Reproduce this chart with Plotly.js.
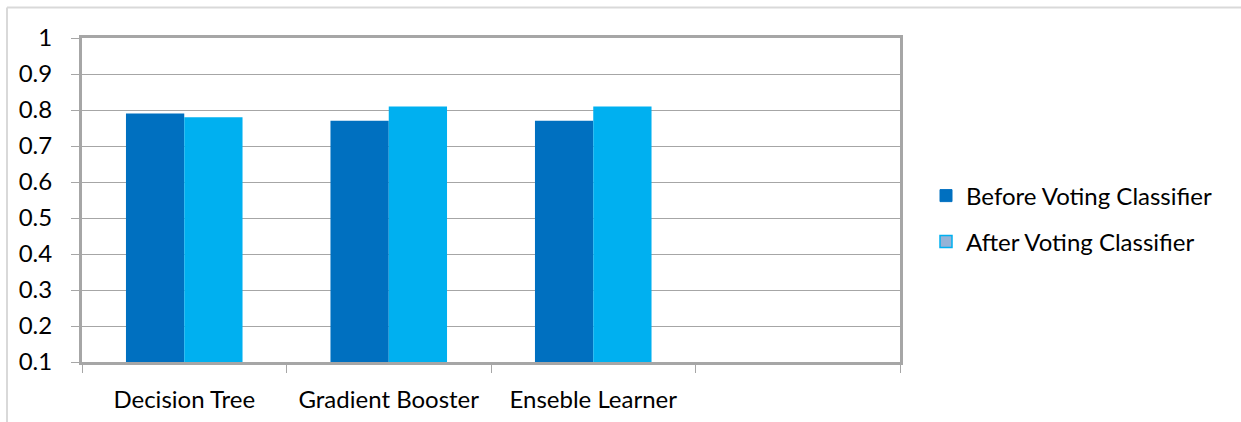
<!DOCTYPE html>
<html>
<head>
<meta charset="utf-8">
<script src="https://cdn.plot.ly/plotly-3.0.1.min.js"></script>
<style>
html,body{margin:0;padding:0;background:#fff;}
#chart{width:1241px;height:422px;}
</style>
</head>
<body>
<div id="chart"></div>
<script>
const categories = ['Decision Tree', 'Gradient Booster', 'Enseble Learner', ' '];
const beforeVoting = [0.79, 0.77, 0.77, null];
const afterVoting = [0.78, 0.81, 0.81, null];
const seriesNames = ['Before Voting Classifier', 'After Voting Classifier'];
const yTickVals = [0.1, 0.2, 0.3, 0.4, 0.5, 0.6, 0.7, 0.8, 0.9, 1];
const yTickText = ['0.1', '0.2', '0.3', '0.4', '0.5', '0.6', '0.7', '0.8', '0.9', '1'];

const FONT = 'Lato, "Open Sans", sans-serif';
const gray = '#a6a6a6';
const FS = 24;

const traces = [
  {type: 'bar', x: categories, y: beforeVoting, name: seriesNames[0], marker: {color: '#0070C0'}, showlegend: false, hoverinfo: 'skip'},
  {type: 'bar', x: categories, y: afterVoting, name: seriesNames[1], marker: {color: '#00B0F0'}, showlegend: false, hoverinfo: 'skip'},
  // legend-only entries on hidden axes
  {type: 'bar', x: [categories[0]], y: [null], name: seriesNames[0], xaxis: 'x2', yaxis: 'y2',
   marker: {color: '#0070C0', line: {color: '#0070C0', width: 1}}, legend: 'legend'},
  {type: 'bar', x: [categories[0]], y: [null], name: seriesNames[1], xaxis: 'x2', yaxis: 'y2',
   marker: {color: '#95B3D7', line: {color: '#00B0F0', width: 1.5}}, legend: 'legend2'}
];

const W = 1241, H = 422;
const L = 82, R = 900, T = 37.5, B = 362.5;
const pw = R - L, ph = B - T;
const px = v => (v - L) / pw;
const py = v => (B - v) / ph;

const layout = {
  width: W, height: H,
  margin: {l: L, r: W - R, t: T, b: H - B, pad: 0},
  paper_bgcolor: '#fff', plot_bgcolor: '#fff',
  font: {family: FONT, size: FS, color: '#000'},
  barmode: 'group', bargap: 0.43, bargroupgap: 0,
  xaxis: {
    type: 'category', categoryorder: 'array', categoryarray: categories,
    range: [-0.5, 3.5], tickson: 'boundaries', ticks: 'outside', ticklen: 8, tickcolor: gray, tickwidth: 1,
    showline: true, linecolor: gray, linewidth: 3, mirror: true, showgrid: false,
    tickfont: {family: FONT, size: FS, color: '#000'}, ticklabelstandoff: 14, fixedrange: true
  },
  yaxis: {
    range: [0.1, 1], tickvals: yTickVals, ticktext: yTickText, ticks: 'outside', ticklen: 8,
    tickcolor: gray, tickwidth: 1, showline: true, linecolor: gray, linewidth: 3, mirror: true,
    showgrid: true, gridcolor: gray, gridwidth: 1, zeroline: false,
    tickfont: {family: FONT, size: FS, color: '#000'}, ticklabelstandoff: 14, fixedrange: true
  },
  xaxis2: {visible: false, domain: [0, 0.01], anchor: 'y2'},
  yaxis2: {visible: false, domain: [0, 0.01], anchor: 'x2', range: [0, 1]},
  legend: {x: px(926), y: py(196), xanchor: 'left', yanchor: 'middle', bgcolor: 'rgba(0,0,0,0)',
           font: {family: FONT, size: FS, color: '#000'}},
  legend2: {x: px(926), y: py(242), xanchor: 'left', yanchor: 'middle', bgcolor: 'rgba(0,0,0,0)',
           font: {family: FONT, size: FS, color: '#000'}},
  shapes: [
    {type: 'line', xref: 'paper', yref: 'paper', x0: px(7), x1: px(1241), y0: py(7), y1: py(7), line: {color: '#d9d9d9', width: 2}},
    {type: 'line', xref: 'paper', yref: 'paper', x0: px(7), x1: px(7), y0: py(7), y1: py(430), line: {color: '#d9d9d9', width: 2}}
  ],
  showlegend: true
};

Plotly.newPlot('chart', traces, layout, {displayModeBar: false, staticPlot: true});
</script>
</body>
</html>
